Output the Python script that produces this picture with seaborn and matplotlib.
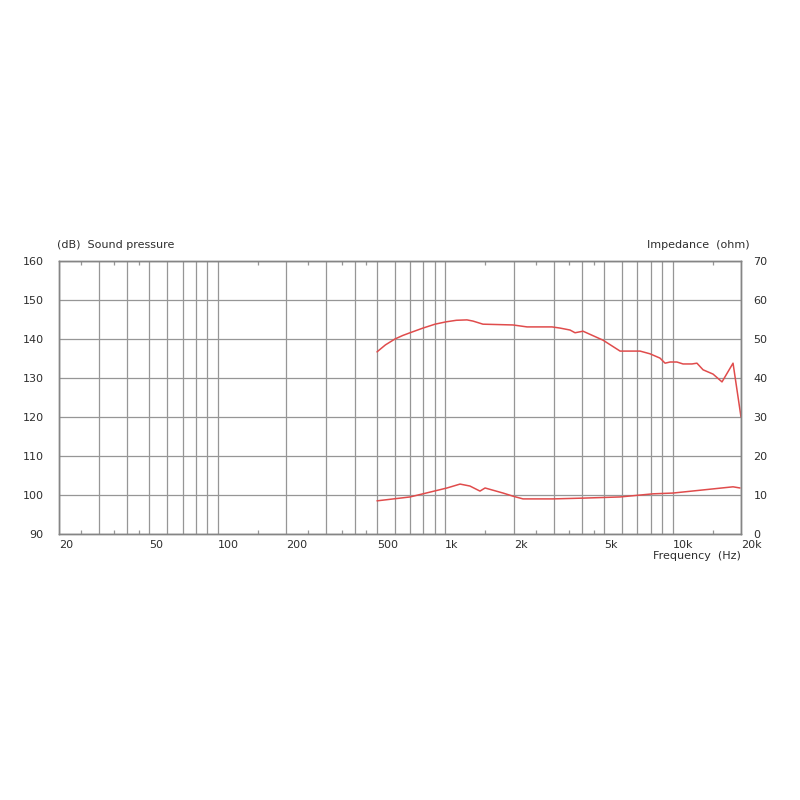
import matplotlib
matplotlib.use('Agg')
import matplotlib.pyplot as plt
import seaborn as sns

# Sound pressure curve (left axis, dB)
spl_freq = [501, 546, 601, 650, 700, 798, 902, 1008, 1120, 1246, 1324, 1466, 1986, 2290,
            2950, 3200, 3540, 3724, 4037, 4944, 5877, 7196, 7960, 8806, 9270, 9750,
            10450, 11120, 12170, 12800, 13620, 15070, 16500, 18450, 20000]
spl_db = [136.7, 138.5, 140.0, 140.9, 141.6, 142.8, 143.8, 144.4, 144.8, 144.9, 144.6,
          143.8, 143.6, 143.1, 143.1, 142.8, 142.3, 141.6, 142.0, 139.7, 136.9, 136.9,
          136.2, 135.1, 133.8, 134.1, 134.1, 133.6, 133.6, 133.8, 132.1, 131.0, 129.0,
          133.8, 120.0]

# Impedance curve (right axis, ohm)
imp_freq = [501, 700, 798, 1018, 1162, 1284, 1422, 1497, 1796, 1986, 2198, 2980,
            4037, 5877, 8206, 10040, 13620, 18450, 19800]
imp_ohm = [8.5, 9.5, 10.3, 11.8, 12.8, 12.3, 11.0, 11.8, 10.5, 9.7, 9.0, 9.0,
           9.2, 9.5, 10.3, 10.5, 11.3, 12.1, 11.8]

x_grid = [20, 30, 40, 50, 60, 70, 80, 90, 100, 200, 300, 400, 500, 600, 700, 800, 900,
          1000, 2000, 3000, 4000, 5000, 6000, 7000, 8000, 9000, 10000, 20000]
x_label_map = {20: '20', 50: '50', 100: '100', 200: '200', 500: '500', 1000: '1k',
               2000: '2k', 5000: '5k', 10000: '10k', 20000: '20k'}
x_minor = [25, 35, 45, 150, 250, 350, 450, 1500, 2500, 3500, 4500, 15000]
left_ticks = [90, 100, 110, 120, 130, 140, 150, 160]
right_ticks = [0, 10, 20, 30, 40, 50, 60, 70]

sns.set_theme(style='white')
plt.rcParams['font.family'] = ['DejaVu Sans']

line_color = '#e04c4c'
grid_color = '#969696'
text_color = '#2e2e2e'

fig = plt.figure(figsize=(8, 8), dpi=100)
ax = fig.add_axes([59 / 800, 1 - 534 / 800, 682 / 800, 273 / 800])
ax.set_xscale('log')
ax2 = ax.twinx()

sns.lineplot(x=spl_freq, y=spl_db, ax=ax, color=line_color, linewidth=1.1)
sns.lineplot(x=imp_freq, y=imp_ohm, ax=ax2, color=line_color, linewidth=1.1)

ax.set_xlim(20, 20000)
ax.set_ylim(90, 160)
ax2.set_ylim(0, 70)

ax.set_xticks(x_grid)
ax.set_xticklabels([x_label_map.get(v, '') for v in x_grid], ha='left')
ax.set_xticks(x_minor, minor=True)
ax.set_xticklabels([], minor=True)
ax.set_yticks(left_ticks)
ax.set_yticklabels([str(v) for v in left_ticks])
ax2.set_yticks(right_ticks)
ax2.set_yticklabels([str(v) for v in right_ticks])

ax.grid(True, which='major', color=grid_color, linewidth=0.9)
ax2.grid(False)
ax.tick_params(axis='x', which='major', length=0, pad=4, labelsize=8, labelcolor=text_color)
ax.tick_params(axis='x', which='minor', direction='in', length=3, top=True, bottom=True,
               color=grid_color, width=0.9)
ax.tick_params(axis='y', length=0, pad=11, labelsize=8, labelcolor=text_color)
ax2.tick_params(axis='y', length=0, pad=9, labelsize=8, labelcolor=text_color)
for a in (ax, ax2):
    for s in a.spines.values():
        s.set_color('#858585')
        s.set_linewidth(1.0)
ax.set_xlabel('')
ax.set_ylabel('')
ax2.set_ylabel('')

fig.text(57 / 800, 1 - 245 / 800, '(dB)  Sound pressure', ha='left', va='center',
         fontsize=8, color=text_color)
fig.text(750 / 800, 1 - 245 / 800, 'Impedance  (ohm)', ha='right', va='center',
         fontsize=8, color=text_color)
fig.text(741 / 800, 1 - 556 / 800, 'Frequency  (Hz)', ha='right', va='center',
         fontsize=8, color=text_color)

fig.savefig('out.png', dpi=100, facecolor='white')
